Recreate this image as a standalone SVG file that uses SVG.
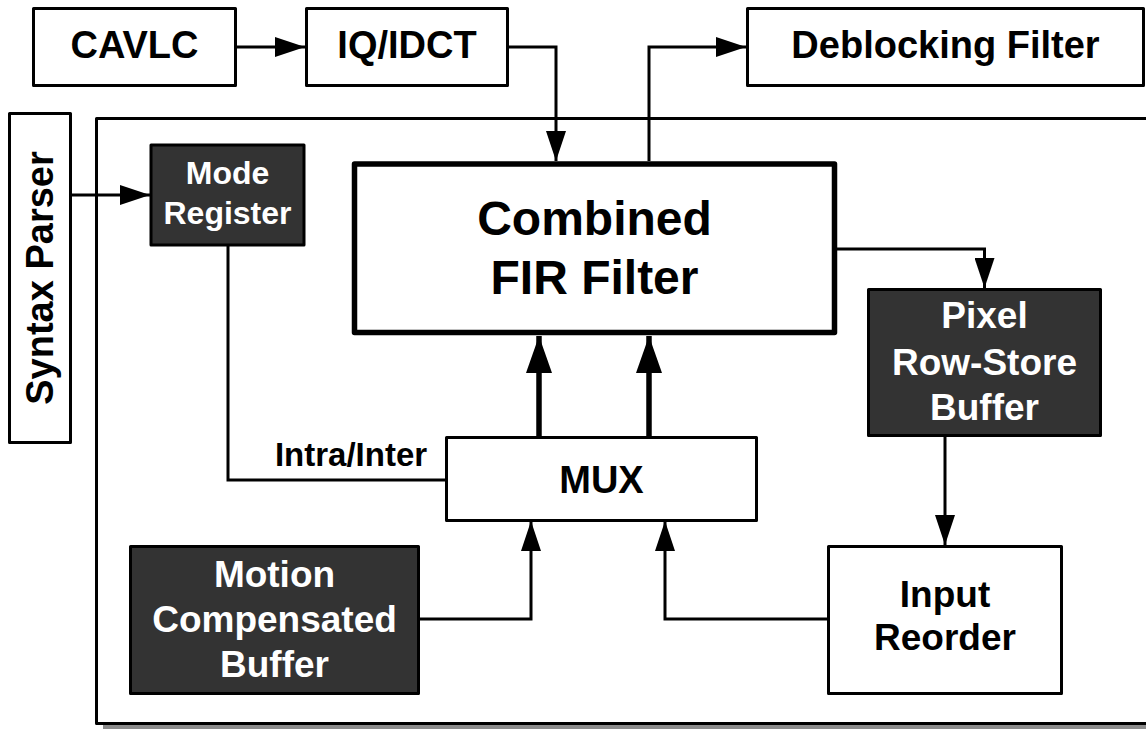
<svg xmlns="http://www.w3.org/2000/svg" width="1146" height="731" viewBox="0 0 1146 731">
  <style>
    .box { fill: #ffffff; stroke: #000000; stroke-width: 3; stroke-linejoin: round; }
    .dark { fill: #333333; stroke: #000000; stroke-width: 3; stroke-linejoin: round; }
    .thick { fill: #ffffff; stroke: #000000; stroke-width: 5.5; stroke-linejoin: round; }
    .lbl { font-family: "Liberation Sans", Arial, sans-serif; font-weight: bold; font-size: 37px; fill: #000000; text-anchor: middle; }
    .wlbl { font-family: "Liberation Sans", Arial, sans-serif; font-weight: bold; font-size: 37px; fill: #ffffff; text-anchor: middle; }
    .big { font-size: 48px; }
    .mid { font-size: 38px; }
    .small { font-size: 32px; }
    .tag { font-size: 33px; }
    .wire { fill: none; stroke: #000000; stroke-width: 3; stroke-linejoin: miter; }
    .bus { fill: none; stroke: #000000; stroke-width: 5.5; }
  </style>
  <defs>
    <marker id="arrow" markerUnits="userSpaceOnUse" markerWidth="30" markerHeight="20" refX="30" refY="10" orient="auto">
      <path d="M0,0 L30,10 L0,20 Z" fill="#000000"/>
    </marker>
    <marker id="arrowBig" markerUnits="userSpaceOnUse" markerWidth="37" markerHeight="26" refX="37" refY="13" orient="auto">
      <path d="M0,0 L37,13 L0,26 Z" fill="#000000"/>
    </marker>
  </defs>

  <rect width="1146" height="731" fill="#ffffff"/>

  <!-- interpolation engine enclosure with drop shadow -->
  <g id="enclosure">
    <rect x="103" y="124" width="1100" height="605" fill="#8c8c8c"/>
    <rect x="96.5" y="118.5" width="1100" height="605" class="box"/>
  </g>

  <g id="cavlc">
    <rect x="33.5" y="8.5" width="202" height="77" class="box"/>
    <text x="134.5" y="58" class="lbl mid">CAVLC</text>
  </g>

  <g id="iqidct">
    <rect x="306.5" y="8.5" width="201" height="77" class="box"/>
    <text x="407" y="58" class="lbl mid">IQ/IDCT</text>
  </g>

  <g id="deblocking">
    <rect x="747.5" y="8.5" width="396" height="77" class="box"/>
    <text x="945.5" y="58" class="lbl mid">Deblocking Filter</text>
  </g>

  <g id="syntax-parser">
    <rect x="9.5" y="113.5" width="61" height="329" class="box"/>
    <text class="lbl mid" transform="translate(53,278) rotate(-90)" x="0" y="0">Syntax Parser</text>
  </g>

  <g id="mode-register">
    <rect x="151" y="145" width="153" height="100" class="dark"/>
    <text x="227.5" y="184" class="wlbl small">Mode</text>
    <text x="227.5" y="224" class="wlbl small">Register</text>
  </g>

  <g id="fir-filter">
    <rect x="354.5" y="164" width="480" height="168.5" class="thick"/>
    <text x="594.5" y="235" class="lbl big">Combined</text>
    <text x="594.5" y="294" class="lbl big">FIR Filter</text>
  </g>

  <g id="row-store">
    <rect x="868.5" y="289.5" width="232" height="146" class="dark"/>
    <text x="984.5" y="328" class="wlbl">Pixel</text>
    <text x="984.5" y="375" class="wlbl">Row-Store</text>
    <text x="984.5" y="420" class="wlbl">Buffer</text>
  </g>

  <g id="mux">
    <rect x="446.5" y="437.5" width="310" height="83" class="box"/>
    <text x="601.5" y="493" class="lbl mid">MUX</text>
  </g>

  <g id="mc-buffer">
    <rect x="130.5" y="546.5" width="288" height="147" class="dark"/>
    <text x="274.5" y="587" class="wlbl">Motion</text>
    <text x="274.5" y="632" class="wlbl">Compensated</text>
    <text x="274.5" y="677" class="wlbl">Buffer</text>
  </g>

  <g id="input-reorder">
    <rect x="828.5" y="546.5" width="233" height="147" class="box"/>
    <text x="945" y="607" class="lbl">Input</text>
    <text x="945" y="650" class="lbl">Reorder</text>
  </g>

  <g id="connectors">
    <!-- top pipeline -->
    <path d="M235,47 L305,47" class="wire" marker-end="url(#arrow)"/>
    <path d="M507,47 L556,47 L556,161" class="wire" marker-end="url(#arrow)"/>
    <path d="M649,161 L649,47 L746,47" class="wire" marker-end="url(#arrow)"/>
    <!-- mode control -->
    <path d="M71,195 L150,195" class="wire" marker-end="url(#arrow)"/>
    <path d="M228,246 L228,480 L446,480" class="wire"/>
    <text x="351" y="466" class="lbl tag">Intra/Inter</text>
    <!-- filter output to row store and back through reorder -->
    <path d="M837,249 L984.5,249 L984.5,288" class="wire" marker-end="url(#arrow)"/>
    <path d="M945,437 L945,545" class="wire" marker-end="url(#arrow)"/>
    <!-- MUX inputs -->
    <path d="M419,619 L531,619 L531,521" class="wire" marker-end="url(#arrow)"/>
    <path d="M828,619 L665,619 L665,521" class="wire" marker-end="url(#arrow)"/>
    <!-- MUX to filter buses -->
    <path d="M539,437 L539,336" class="bus" marker-end="url(#arrowBig)"/>
    <path d="M649,437 L649,336" class="bus" marker-end="url(#arrowBig)"/>
  </g>
</svg>
